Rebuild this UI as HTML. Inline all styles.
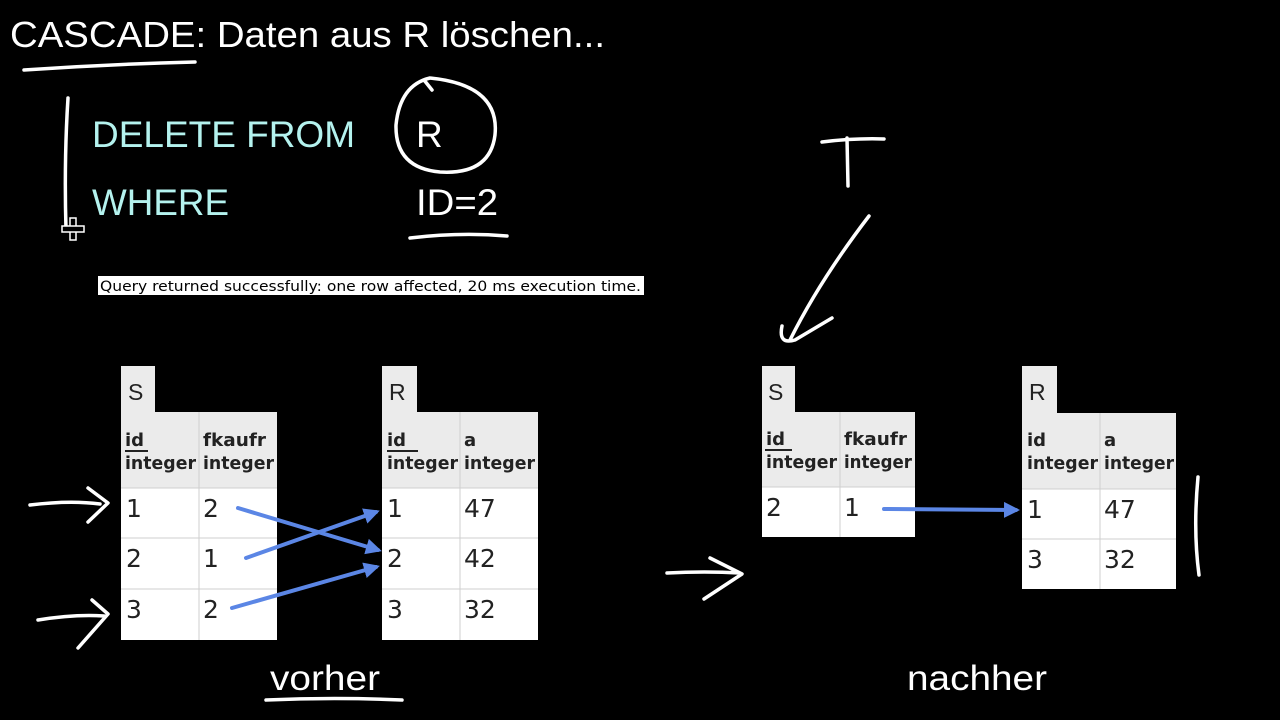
<!DOCTYPE html>
<html><head><meta charset="utf-8"><style>
html,body{margin:0;padding:0;background:#000;width:1280px;height:720px;overflow:hidden}
svg{display:block}
.h{font-family:"DejaVu Sans",sans-serif;font-weight:bold;font-size:18px;fill:#222}
.v{font-family:"DejaVu Sans",sans-serif;font-size:25px;fill:#222}
.t{font-family:"Liberation Sans",sans-serif;font-size:23px;fill:#222}
.w{fill:none;stroke:#fff;stroke-width:3.5;stroke-linecap:round;stroke-linejoin:round}
.b{fill:none;stroke:#5b86e5;stroke-width:4;stroke-linecap:round}
</style></head><body>
<svg width="1280" height="720" viewBox="0 0 1280 720">
<defs><marker id="ah" markerWidth="4" markerHeight="4" refX="3" refY="2" orient="auto" markerUnits="strokeWidth"><path d="M0,0 L4,2 L0,4 z" fill="#5b86e5"/></marker></defs>
<text x="10" y="47" font-family="Liberation Sans,sans-serif" font-size="36" fill="#fff" textLength="595" lengthAdjust="spacingAndGlyphs">CASCADE: Daten aus R löschen...</text>
<text x="92" y="147" font-family="Liberation Sans,sans-serif" font-size="37" fill="#b4f2ee" textLength="263" lengthAdjust="spacingAndGlyphs">DELETE FROM</text>
<text x="92" y="215" font-family="Liberation Sans,sans-serif" font-size="37" fill="#b4f2ee" textLength="137" lengthAdjust="spacingAndGlyphs">WHERE</text>
<text x="416" y="147" font-family="Liberation Sans,sans-serif" font-size="37" fill="#fff">R</text>
<text x="416" y="215" font-family="Liberation Sans,sans-serif" font-size="37" fill="#fff" textLength="82" lengthAdjust="spacingAndGlyphs">ID=2</text>
<rect x="98" y="276" width="546" height="19" fill="#fff"/>
<text x="100" y="291" font-family="DejaVu Sans,sans-serif" font-size="14" fill="#000" textLength="541" lengthAdjust="spacingAndGlyphs">Query returned successfully: one row affected, 20 ms execution time.</text>
<text x="270" y="690" font-family="Liberation Sans,sans-serif" font-size="35" fill="#fff" textLength="110" lengthAdjust="spacingAndGlyphs">vorher</text>
<text x="907" y="690" font-family="Liberation Sans,sans-serif" font-size="35" fill="#fff" textLength="140" lengthAdjust="spacingAndGlyphs">nachher</text>

<path class="w" d="M24,70 Q110,64 195,62"/>
<path class="w" d="M68,98 Q64,160 66,230"/>
<path class="w" d="M430,78 Q500,85 495,135 Q490,175 440,172 Q395,168 396,125 Q400,85 430,78 M424,80 L432,90"/>
<path class="w" d="M410,238 Q460,232 507,236"/>
<path class="w" d="M266,700 Q335,697 402,700"/>
<path class="w" d="M30,505 Q70,500 100,504 M88,488 L108,503 L88,522"/>
<path class="w" d="M38,620 Q75,614 104,616 M92,600 L108,614 L78,648"/>
<path class="w" d="M667,573 Q705,571 740,573 M710,558 L742,574 L704,599"/>
<path class="w" d="M822,142 Q855,138 884,139 M847,138 L848,186"/>
<path class="w" d="M869,216 Q820,280 790,340 M782,326 Q778,345 795,340 L832,318"/>
<path class="w" d="M1198,477 Q1193,530 1199,575"/>
<g stroke="#fff" stroke-width="1.5" fill="#000"><rect x="70" y="218" width="6" height="22"/><rect x="62" y="226" width="22" height="6"/></g>

<g>
<rect x="121" y="366" width="34" height="48" fill="#ebebeb"/>
<text x="128" y="400" class="t">S</text>
<rect x="121" y="412" width="156" height="228" fill="#fff"/>
<rect x="121" y="412" width="156" height="76" fill="#ebebeb"/>
<g stroke="#cfcfcf" stroke-width="1"><line x1="199" y1="412" x2="199" y2="640"/><line x1="121" y1="488" x2="277" y2="488"/><line x1="121" y1="538" x2="277" y2="538"/><line x1="121" y1="589" x2="277" y2="589"/></g>
<text x="125" y="446" class="h">id</text><line x1="125" y1="451" x2="148" y2="451" stroke="#222" stroke-width="2"/>
<text x="125" y="469" class="h" textLength="71" lengthAdjust="spacingAndGlyphs">integer</text>
<text x="203" y="446" class="h" textLength="63" lengthAdjust="spacingAndGlyphs">fkaufr</text><text x="203" y="469" class="h" textLength="71" lengthAdjust="spacingAndGlyphs">integer</text>
<text x="126" y="517" class="v">1</text><text x="203" y="517" class="v">2</text>
<text x="126" y="567" class="v">2</text><text x="203" y="567" class="v">1</text>
<text x="126" y="618" class="v">3</text><text x="203" y="618" class="v">2</text>
</g>
<g>
<rect x="382" y="366" width="35" height="48" fill="#ebebeb"/>
<text x="389" y="400" class="t">R</text>
<rect x="382" y="412" width="156" height="228" fill="#fff"/>
<rect x="382" y="412" width="156" height="76" fill="#ebebeb"/>
<g stroke="#cfcfcf" stroke-width="1"><line x1="460" y1="412" x2="460" y2="640"/><line x1="382" y1="488" x2="538" y2="488"/><line x1="382" y1="538" x2="538" y2="538"/><line x1="382" y1="589" x2="538" y2="589"/></g>
<text x="387" y="446" class="h">id</text><line x1="387" y1="451" x2="418" y2="451" stroke="#222" stroke-width="2"/>
<text x="387" y="469" class="h" textLength="71" lengthAdjust="spacingAndGlyphs">integer</text>
<text x="464" y="446" class="h">a</text><text x="464" y="469" class="h" textLength="71" lengthAdjust="spacingAndGlyphs">integer</text>
<text x="387" y="517" class="v">1</text><text x="464" y="517" class="v">47</text>
<text x="387" y="567" class="v">2</text><text x="464" y="567" class="v">42</text>
<text x="387" y="618" class="v">3</text><text x="464" y="618" class="v">32</text>
</g>
<path class="b" d="M238,508 L378,550" marker-end="url(#ah)"/>
<path class="b" d="M246,558 L376,512" marker-end="url(#ah)"/>
<path class="b" d="M232,608 L376,567" marker-end="url(#ah)"/>

<g>
<rect x="762" y="366" width="33" height="48" fill="#ebebeb"/>
<text x="768" y="400" class="t">S</text>
<rect x="762" y="412" width="153" height="125" fill="#fff"/>
<rect x="762" y="412" width="153" height="75" fill="#ebebeb"/>
<g stroke="#cfcfcf" stroke-width="1"><line x1="840" y1="412" x2="840" y2="537"/><line x1="762" y1="487" x2="915" y2="487"/></g>
<text x="766" y="445" class="h">id</text><line x1="765" y1="450" x2="792" y2="450" stroke="#222" stroke-width="2"/>
<text x="766" y="468" class="h" textLength="71" lengthAdjust="spacingAndGlyphs">integer</text>
<text x="844" y="445" class="h" textLength="63" lengthAdjust="spacingAndGlyphs">fkaufr</text><text x="844" y="468" class="h" textLength="68" lengthAdjust="spacingAndGlyphs">integer</text>
<text x="766" y="516" class="v">2</text><text x="844" y="516" class="v">1</text>
</g>
<g>
<rect x="1022" y="366" width="35" height="48" fill="#ebebeb"/>
<text x="1029" y="400" class="t">R</text>
<rect x="1022" y="413" width="154" height="176" fill="#fff"/>
<rect x="1022" y="413" width="154" height="76" fill="#ebebeb"/>
<g stroke="#cfcfcf" stroke-width="1"><line x1="1100" y1="413" x2="1100" y2="589"/><line x1="1022" y1="489" x2="1176" y2="489"/><line x1="1022" y1="539" x2="1176" y2="539"/></g>
<text x="1027" y="446" class="h">id</text>
<text x="1027" y="469" class="h" textLength="71" lengthAdjust="spacingAndGlyphs">integer</text>
<text x="1104" y="446" class="h">a</text><text x="1104" y="469" class="h" textLength="70" lengthAdjust="spacingAndGlyphs">integer</text>
<text x="1027" y="518" class="v">1</text><text x="1104" y="518" class="v">47</text>
<text x="1027" y="568" class="v">3</text><text x="1104" y="568" class="v">32</text>
</g>
<path class="b" d="M884,509 L1016,510" marker-end="url(#ah)"/>
</svg>
</body></html>
